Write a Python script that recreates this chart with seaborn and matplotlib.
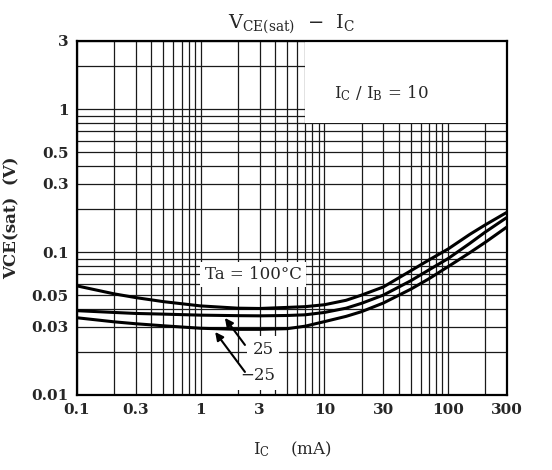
import numpy as np
import pandas as pd
import matplotlib
matplotlib.use("Agg")
import matplotlib.pyplot as plt
import seaborn as sns
from matplotlib.patches import Rectangle
from matplotlib.ticker import FixedLocator, FixedFormatter, LogLocator, NullFormatter

# collector current (mA)
ic = [0.1, 0.2, 0.3, 0.5, 1, 2, 3, 5, 7, 10, 15, 20, 30, 50, 70, 100, 150, 200, 300]
# VCE(sat) (V) for each ambient temperature
v_100 = [0.058, 0.051, 0.048, 0.045, 0.042, 0.0405, 0.0403, 0.041, 0.0415, 0.0428,
         0.046, 0.050, 0.057, 0.074, 0.088, 0.105, 0.133, 0.155, 0.19]
v_25 = [0.0389, 0.0378, 0.0372, 0.0368, 0.0362, 0.0359, 0.0358, 0.036, 0.0364, 0.0378,
        0.0405, 0.0438, 0.050, 0.063, 0.075, 0.090, 0.115, 0.138, 0.175]
v_m25 = [0.0347, 0.0325, 0.0315, 0.0305, 0.0293, 0.0288, 0.0288, 0.0291, 0.0303, 0.0326,
         0.0355, 0.0383, 0.044, 0.055, 0.065, 0.079, 0.099, 0.117, 0.15]

xticks = [0.1, 0.3, 1, 3, 10, 30, 100, 300]
xticklabels = ["0.1", "0.3", "1", "3", "10", "30", "100", "300"]
yticks = [0.01, 0.03, 0.05, 0.1, 0.3, 0.5, 1, 3]
yticklabels = ["0.01", "0.03", "0.05", "0.1", "0.3", "0.5", "1", "3"]

df = pd.concat([
    pd.DataFrame({"ic": ic, "v": v_100, "ta": "100"}),
    pd.DataFrame({"ic": ic, "v": v_25, "ta": "25"}),
    pd.DataFrame({"ic": ic, "v": v_m25, "ta": "-25"}),
])

sns.set_style("white")
plt.rcParams["font.family"] = ["DejaVu Serif", "DejaVu Sans"]
plt.rcParams["mathtext.fontset"] = "dejavuserif"

fig = plt.figure(figsize=(5.52, 4.70), dpi=100)
ax = fig.add_axes([0.1395, 0.1596, 0.779, 0.7532])
ax.set_xscale("log")
ax.set_yscale("log")
ax.set_xlim(0.1, 300)
ax.set_ylim(0.01, 3)

sns.lineplot(data=df, x="ic", y="v", hue="ta", palette=["black"] * 3,
             linewidth=2.2, legend=False, ax=ax, zorder=3)

ax.xaxis.set_major_locator(FixedLocator(xticks))
ax.xaxis.set_major_formatter(FixedFormatter(xticklabels))
ax.yaxis.set_major_locator(FixedLocator(yticks))
ax.yaxis.set_major_formatter(FixedFormatter(yticklabels))
ax.xaxis.set_minor_locator(LogLocator(base=10, subs=np.arange(1, 10)))
ax.yaxis.set_minor_locator(LogLocator(base=10, subs=np.arange(1, 10)))
ax.xaxis.set_minor_formatter(NullFormatter())
ax.yaxis.set_minor_formatter(NullFormatter())
ax.grid(True, which="both", color="#1a1a1a", linewidth=0.9)
ax.set_axisbelow(True)
ax.tick_params(which="both", length=0, labelsize=11, pad=6)
for lab in ax.get_xticklabels() + ax.get_yticklabels():
    lab.set_fontweight("bold")
for s in ax.spines.values():
    s.set_color("black")
    s.set_linewidth(1.6)

# white label area top right
ax.add_patch(Rectangle((7, 0.8), 300 - 7, 2.93 - 0.8, facecolor="white",
                       edgecolor="none", zorder=1.5))
ax.text(12, 1.3, r"I$_{\mathrm{C}}$ / I$_{\mathrm{B}}$ = 10", fontsize=12,
        va="center", ha="left", zorder=4)

box = dict(facecolor="white", edgecolor="none", pad=3)
ax.text(2.65, 0.070, "Ta = 100°C", fontsize=12, ha="center", va="center",
        bbox=box, zorder=4)
ax.text(3.2, 0.0207, "25", fontsize=12, ha="center", va="center",
        bbox=dict(facecolor="white", edgecolor="none", pad=4), zorder=4)
ax.text(2.9, 0.0136, "−25", fontsize=12, ha="center", va="center",
        bbox=dict(facecolor="white", edgecolor="none", pad=4), zorder=4)

arrow = dict(arrowstyle="-|>", color="black", lw=1.5, mutation_scale=12,
             shrinkA=0, shrinkB=0)
ax.annotate("", xy=(1.57, 0.0346), xytext=(2.28, 0.0224), arrowprops=arrow, zorder=5)
ax.annotate("", xy=(1.31, 0.0276), xytext=(2.28, 0.0145), arrowprops=arrow, zorder=5)

ax.set_xlabel(r"I$_{\mathrm{C}}$    (mA)", fontsize=12, labelpad=16)
ax.set_ylabel("VCE(sat)  (V)", fontsize=12, fontweight="bold", labelpad=8)
ax.set_title(r"V$_{\mathrm{CE(sat)}}$  −  I$_{\mathrm{C}}$", fontsize=14, pad=9)

fig.savefig("out.png", dpi=100, facecolor="white")
